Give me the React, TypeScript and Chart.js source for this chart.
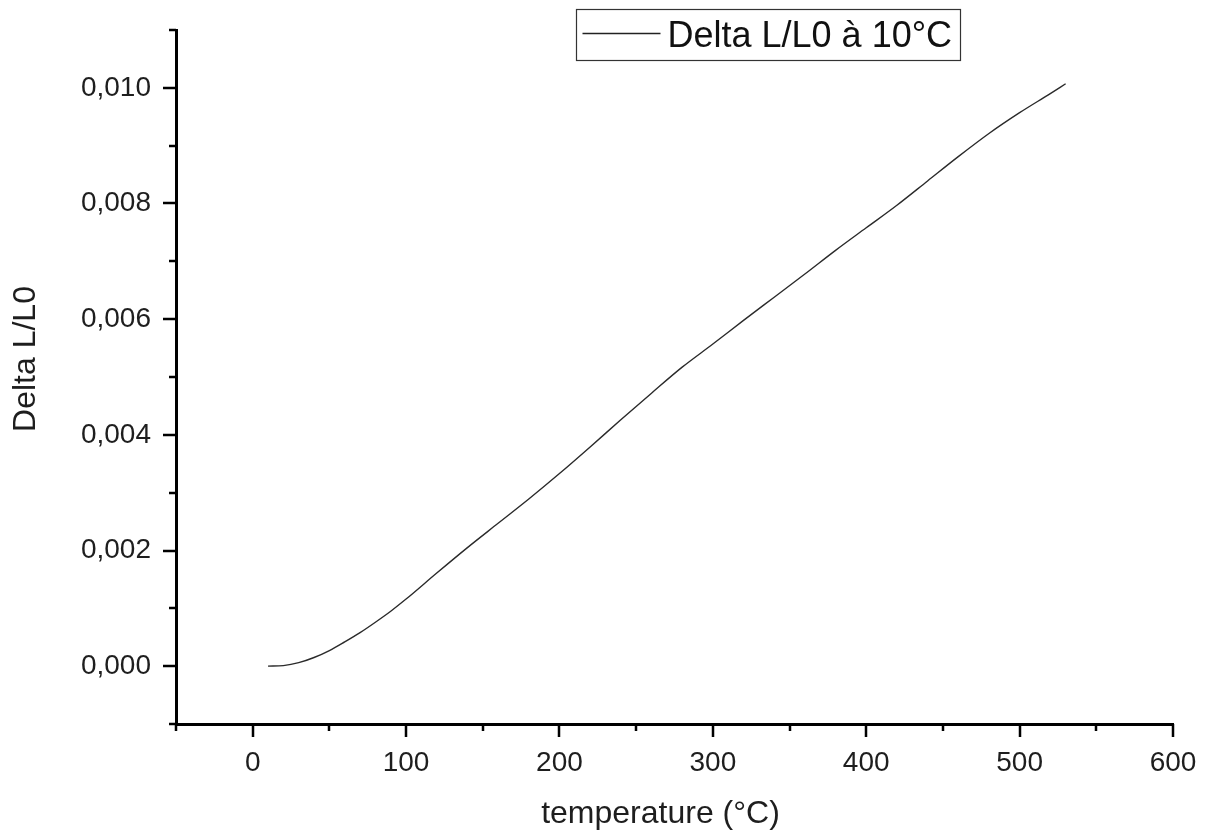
import { useEffect, useRef } from "react";
import { Chart, registerables } from "chart.js";

Chart.register(...registerables);

// Relative elongation of the sample versus temperature
const temperatures = [
  10, 20, 30, 40, 50, 60, 70, 80, 90, 100, 120, 140, 160, 180, 200, 220, 240,
  260, 280, 300, 320, 340, 360, 380, 400, 420, 440, 460, 480, 500, 520, 530,
];
const deltaL = [
  0.0, 0.00001, 0.00006, 0.00015, 0.00027, 0.00042, 0.00058, 0.00076, 0.00095,
  0.00116, 0.00161, 0.00205, 0.00247, 0.00289, 0.00333, 0.00379, 0.00426,
  0.00472, 0.00517, 0.00557, 0.00598, 0.00638, 0.00678, 0.00719, 0.00758,
  0.00797, 0.00839, 0.00881, 0.00921, 0.00957, 0.0099, 0.01007,
];

const seriesLabel = "Delta L/L0 à 10°C";
const xTitle = "temperature (°C)";
const yTitle = "Delta L/L0";

// Major ticks carry a label, minor ticks an empty string
const xTickValues = [-50, 0, 50, 100, 150, 200, 250, 300, 350, 400, 450, 500, 550, 600];
const xTickLabels = ["", "0", "", "100", "", "200", "", "300", "", "400", "", "500", "", "600"];
const yTickValues = [
  -0.001, 0, 0.001, 0.002, 0.003, 0.004, 0.005, 0.006, 0.007, 0.008, 0.009, 0.01, 0.011,
];
const yTickLabels = [
  "", "0,000", "", "0,002", "", "0,004", "", "0,006", "", "0,008", "", "0,010", "",
];

const FONT = '"Liberation Sans", Arial, sans-serif';
const TEXT = "#1e1e1e";

const axisDecor = {
  id: "axisDecor",
  afterDraw(chart: any) {
    const { ctx, chartArea, scales } = chart;
    const xs = scales.x;
    const ys = scales.y;
    ctx.save();

    // tick marks on the outside of both axes
    ctx.strokeStyle = "#000";
    ctx.lineWidth = 2.5;
    ctx.beginPath();
    xTickValues.forEach((v, i) => {
      const px = Math.round(xs.getPixelForValue(v));
      const len = xTickLabels[i] ? 13 : 7;
      ctx.moveTo(px, chartArea.bottom);
      ctx.lineTo(px, chartArea.bottom + len);
    });
    yTickValues.forEach((v, i) => {
      const py = Math.round(ys.getPixelForValue(v));
      const len = yTickLabels[i] ? 13 : 7;
      ctx.moveTo(chartArea.left, py);
      ctx.lineTo(chartArea.left - len, py);
    });
    ctx.stroke();

    // axis titles
    ctx.fillStyle = TEXT;
    ctx.font = `32px ${FONT}`;
    ctx.textAlign = "center";
    ctx.textBaseline = "alphabetic";
    ctx.fillText(xTitle, (chartArea.left + chartArea.right) / 2 - 14, 823);
    ctx.save();
    ctx.translate(35, 359);
    ctx.rotate(-Math.PI / 2);
    ctx.fillText(yTitle, 0, 0);
    ctx.restore();

    // legend box
    const lx = 576.5;
    const ly = 9.5;
    ctx.strokeStyle = "#333";
    ctx.lineWidth = 1.2;
    ctx.strokeRect(lx, ly, 384, 51);
    ctx.strokeStyle = "#222";
    ctx.lineWidth = 1.3;
    ctx.beginPath();
    ctx.moveTo(lx + 6, ly + 24);
    ctx.lineTo(lx + 84, ly + 24);
    ctx.stroke();
    ctx.fillStyle = "#111";
    ctx.font = `36px ${FONT}`;
    ctx.textAlign = "left";
    ctx.fillText(seriesLabel, lx + 91, ly + 37);

    ctx.restore();
  },
};

const noEdgePadding = (s: any) => {
  s.paddingTop = 0;
  s.paddingBottom = 0;
  s.paddingLeft = 0;
  s.paddingRight = 0;
};

export default function App() {
  const canvasRef = useRef<HTMLCanvasElement | null>(null);

  useEffect(() => {
    const canvas = canvasRef.current;
    if (!canvas) return;
    const chart = new Chart(canvas, {
      type: "line",
      data: {
        datasets: [
          {
            label: seriesLabel,
            data: temperatures.map((t, i) => ({ x: t, y: deltaL[i] })),
            borderColor: "#2a2a2a",
            borderWidth: 1.4,
            pointRadius: 0,
            cubicInterpolationMode: "monotone",
            fill: false,
          },
        ],
      },
      options: {
        animation: false,
        responsive: false,
        devicePixelRatio: 1,
        layout: { padding: { left: 0, top: 30, right: 36, bottom: 0 } },
        plugins: {
          legend: { display: false },
          tooltip: { enabled: false },
        },
        scales: {
          x: {
            type: "linear",
            position: "bottom",
            min: -50,
            max: 600,
            grid: { display: false },
            border: { display: true, color: "#000", width: 3 },
            afterBuildTicks: (s: any) => {
              s.ticks = xTickValues.map((v) => ({ value: v }));
            },
            afterFit: (s: any) => {
              s.height = 111;
              noEdgePadding(s);
            },
            ticks: {
              autoSkip: false,
              maxRotation: 0,
              padding: 14,
              color: TEXT,
              font: { family: FONT, size: 28 },
              callback: (_v: any, i: number) => xTickLabels[i],
            },
          },
          y: {
            type: "linear",
            position: "left",
            min: -0.001,
            max: 0.011,
            grid: { display: false },
            border: { display: true, color: "#000", width: 3 },
            afterBuildTicks: (s: any) => {
              s.ticks = yTickValues.map((v) => ({ value: v }));
            },
            afterFit: (s: any) => {
              s.width = 176;
              noEdgePadding(s);
            },
            ticks: {
              autoSkip: false,
              padding: 17,
              color: TEXT,
              font: { family: FONT, size: 28 },
              callback: (_v: any, i: number) => yTickLabels[i],
            },
          },
        },
      },
      plugins: [axisDecor],
    });
    return () => chart.destroy();
  }, []);

  return (
    <div style={{ position: "absolute", left: 0, top: 0, width: 1209, height: 835, background: "#fff" }}>
      <canvas ref={canvasRef} width={1209} height={835} style={{ display: "block" }} />
    </div>
  );
}
